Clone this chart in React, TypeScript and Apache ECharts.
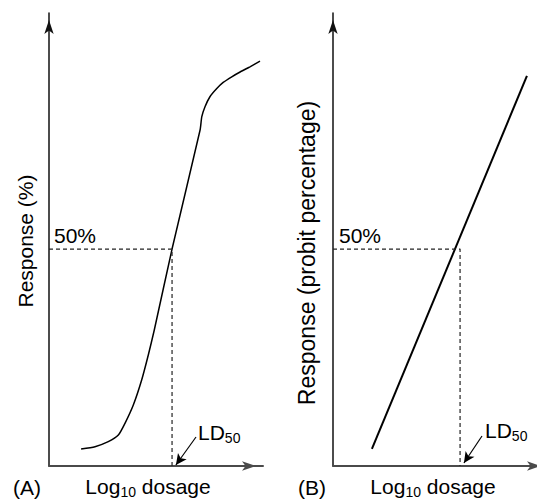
import React, { useEffect, useRef } from "react";
import * as echarts from "echarts";

// Panel A: sigmoid dose-response curve (log10 dosage units, response %)
const curveAX = [1.5, 2.15, 2.77, 3.24, 3.55, 3.94, 4.33, 4.64, 4.92, 5.75, 7.06, 7.14, 7.29, 7.52, 7.84, 8.14, 8.54, 8.93, 9.39, 9.86];
const curveAY = [3.92, 4.45, 5.6, 7.14, 9.84, 14.06, 19.82, 25.58, 31.34, 50.0, 77.44, 80.5, 82.8, 85.1, 87.0, 88.4, 89.7, 90.8, 92.0, 93.3];
// Panel B: probit straight line
const lineBX = [1.81, 9.02];
const lineBY = [3.92, 89.9];
// LD50 positions and 50% level
const ld50A = 5.75;
const ld50B = 5.91;
const halfLevel = 50;
// LD50 pointer arrows [from, to]
const arrowA = [[6.87, 6.68], [5.93, 0.23]];
const arrowB = [[6.93, 6.91], [6.09, 0.69]];

const FONT = "'Liberation Sans', Arial, Helvetica, sans-serif";
const CHART_W = 560; // wider than the view so panel B's x-axis arrow runs off the edge

export default function App() {
  const ref = useRef<HTMLDivElement>(null);
  useEffect(() => {
    if (!ref.current) return;
    const chart = echarts.init(ref.current, null, { renderer: "svg" });
    const axisCommon = {
      type: "value" as const,
      axisTick: { show: false },
      axisLabel: { show: false },
      splitLine: { show: false },
    };
    const xAxisFor = (gi: number) => ({
      ...axisCommon,
      gridIndex: gi,
      min: 0,
      max: 10,
      axisLine: {
        show: true,
        onZero: false,
        symbol: ["none", "arrow"],
        symbolSize: [7, 14],
        symbolOffset: [0, -7],
        lineStyle: { color: "#4a4a4a", width: 2 },
      },
    });
    const yAxisFor = (gi: number) => ({
      ...axisCommon,
      gridIndex: gi,
      min: 0,
      max: 104.4,
      axisLine: {
        show: true,
        onZero: false,
        symbol: ["none", "arrow"],
        symbolSize: [7, 14],
        symbolOffset: [0, -7],
        lineStyle: { color: "#111", width: 1.5 },
      },
    });
    const dashed = { color: "#222", width: 1.2, type: [4, 3] as any };
    const arrowMark = (a: number[][]) => ({
      silent: true,
      symbol: ["none", "arrow"],
      symbolSize: [8, 11],
      label: { show: false },
      lineStyle: { type: "solid", color: "#000", width: 1.2 },
      data: [[{ coord: a[0] }, { coord: a[1] }]],
    });
    const text = (t: string, x: number, y: number, extra: any = {}) => ({
      type: "text",
      x,
      y,
      rotation: extra.rotation || 0,
      style: {
        text: t,
        fontFamily: FONT,
        fontSize: extra.fontSize || 21,
        fill: "#000",
        align: extra.align || "left",
        verticalAlign: "middle",
        rich: extra.rich,
      },
    });
    const subRich = {
      m: { fontFamily: FONT, fontSize: 21, lineHeight: 21, verticalAlign: "top" },
      s: { fontFamily: FONT, fontSize: 14, lineHeight: 12, verticalAlign: "top", padding: [9.5, 0, 0, 0] },
    };
    chart.setOption({
      animation: false,
      grid: [
        { left: 49, top: 13, width: 214, bottom: 34 },
        { left: 333, top: 13, width: 215, bottom: 34 },
      ],
      xAxis: [xAxisFor(0), xAxisFor(1)],
      yAxis: [yAxisFor(0), yAxisFor(1)],
      series: [
        {
          type: "line",
          xAxisIndex: 0,
          yAxisIndex: 0,
          data: curveAX.map((x, i) => [x, curveAY[i]]),
          smooth: 0.2,
          showSymbol: false,
          lineStyle: { color: "#000", width: 1.5 },
        },
        {
          type: "line",
          xAxisIndex: 0,
          yAxisIndex: 0,
          data: [[0, halfLevel], [ld50A, halfLevel], [ld50A, 0]],
          showSymbol: false,
          lineStyle: dashed,
          markLine: arrowMark(arrowA),
        },
        {
          type: "line",
          xAxisIndex: 1,
          yAxisIndex: 1,
          data: lineBX.map((x, i) => [x, lineBY[i]]),
          showSymbol: false,
          lineStyle: { color: "#000", width: 2 },
        },
        {
          type: "line",
          xAxisIndex: 1,
          yAxisIndex: 1,
          data: [[0, halfLevel], [ld50B, halfLevel], [ld50B, 0]],
          showSymbol: false,
          lineStyle: dashed,
          markLine: arrowMark(arrowB),
        },
      ],
      graphic: [
        text("50%", 54, 235),
        text("50%", 339, 235),
        text("{m|LD}{s|50}", 198, 432, { rich: subRich }),
        text("{m|LD}{s|50}", 485, 430, { rich: subRich }),
        text("(A)", 13, 487),
        text("(B)", 298, 487),
        text("{m|Log}{s|10}{m| dosage}", 148, 486, { rich: subRich, align: "center" }),
        text("{m|Log}{s|10}{m| dosage}", 433, 486, { rich: subRich, align: "center" }),
        text("Response (%)", 25, 241, { rotation: Math.PI / 2, align: "center" }),
        text("Response (probit percentage)", 307, 253, { rotation: Math.PI / 2, align: "center", fontSize: 23 }),
      ],
    });
    return () => chart.dispose();
  }, []);
  return (
    <div
      style={{ position: "fixed", left: 0, top: 0, width: 537, height: 500, overflow: "hidden", background: "#fff" }}
    >
      <div ref={ref} style={{ width: CHART_W, height: 500 }} />
    </div>
  );
}
